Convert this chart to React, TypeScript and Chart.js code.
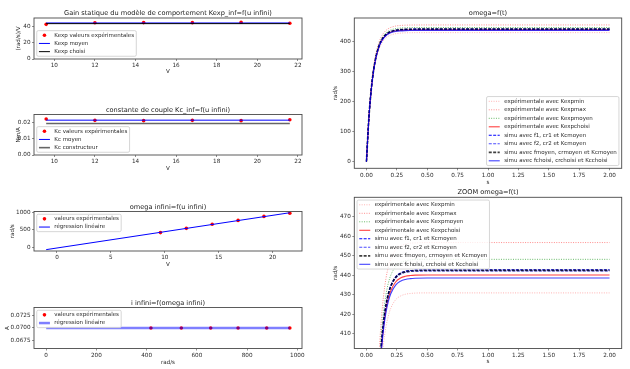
import React, { useEffect, useRef } from "react";
import { Chart, registerables } from "chart.js";

Chart.register(...registerables);

const FONT = '"DejaVu Sans", sans-serif';
const TXT = "#2a2a2a";

// ---------------- data ----------------
const U_INF = [9.6, 12, 14.4, 16.8, 19.2, 21.6];
const U_ENDS = [9.6, 21.6];
const KEXP_VALUES = [43.1, 45.0, 45.3, 45.2, 45.7, 44.5];
const KEXP_MOYEN = [44.8, 44.8];
const KEXP_CHOISI = [44.0, 44.0];
const KC_VALUES = [0.0222, 0.0214, 0.0212, 0.0214, 0.0212, 0.0218];
const KC_MOYEN = [0.0215, 0.0215];
const KC_CONSTRUCTEUR = [0.0194, 0.0194];
const OMEGA_INF = [417, 538, 655, 764, 878, 970];
const REG_U = [-1, 21.6];
const REG_OMEGA = [-66, 982];
const I_INF = [0.07, 0.07, 0.07, 0.07, 0.07, 0.07];
const REG_I_OMEGA = [0, 970];
const REG_I = [0.07, 0.07];

const T = [0, 0.02, 0.04, 0.06, 0.08, 0.1, 0.12, 0.14, 0.16, 0.18, 0.2, 0.24, 0.28, 0.32, 0.36, 0.4, 0.5, 0.6, 0.8, 1.0, 1.5, 2.0];
const W_KEXPMIN = [0, 142.1, 237.4, 301.2, 344.0, 372.7, 391.9, 404.8, 413.4, 419.2, 423.1, 427.5, 429.4, 430.3, 430.7, 430.9, 431.0, 431.0, 431.0, 431.0, 431.0, 431.0];
const W_KEXPMAX = [0, 150.6, 251.6, 319.2, 364.6, 395.0, 415.4, 429.0, 438.2, 444.3, 448.4, 453.1, 455.1, 456.0, 456.5, 456.6, 456.8, 456.8, 456.8, 456.8, 456.8, 456.8];
const W_KEXPMOYEN = [0, 147.8, 246.8, 313.2, 357.7, 387.6, 407.6, 421.0, 429.9, 436.0, 440.0, 444.5, 446.5, 447.4, 447.9, 448.1, 448.2, 448.2, 448.2, 448.2, 448.2, 448.2];
const W_KEXPCHOISI = [0, 145.1, 242.4, 307.6, 351.3, 380.6, 400.3, 413.4, 422.2, 428.2, 432.1, 436.6, 438.6, 439.5, 439.9, 440.1, 440.2, 440.2, 440.2, 440.2, 440.2, 440.2];
const W_F1 = [0, 146.0, 243.9, 309.4, 353.4, 382.9, 402.6, 415.9, 424.7, 430.7, 434.7, 439.2, 441.2, 442.1, 442.5, 442.7, 442.8, 442.8, 442.8, 442.8, 442.8, 442.8];
const W_F2 = [0, 145.8, 243.5, 309.0, 352.9, 382.4, 402.1, 415.3, 424.2, 430.1, 434.1, 438.6, 440.6, 441.5, 441.9, 442.1, 442.2, 442.2, 442.2, 442.2, 442.2, 442.2];
const W_FMOYEN = [0, 145.9, 243.7, 309.2, 353.2, 382.6, 402.4, 415.6, 424.5, 430.4, 434.4, 438.9, 440.9, 441.8, 442.2, 442.4, 442.5, 442.5, 442.5, 442.5, 442.5, 442.5];
const W_FCHOISI = [0, 144.6, 241.5, 306.5, 350.1, 379.3, 398.8, 411.9, 420.7, 426.6, 430.6, 435.0, 437.0, 437.9, 438.3, 438.5, 438.6, 438.6, 438.6, 438.6, 438.6, 438.6];

// tick labels
const TICKS_U = [10, 12, 14, 16, 18, 20, 22];
const TICKS_KEXP = [0, 20, 40];
const TICKS_KC = [0, 0.01, 0.02];
const TICKS_U3 = [0, 5, 10, 15, 20];
const TICKS_OMEGA = [0, 500, 1000];
const TICKS_OMEGA_X = [0, 200, 400, 600, 800, 1000];
const TICKS_I = [0.0675, 0.07, 0.0725];
const TICKS_T = [0, 0.25, 0.5, 0.75, 1, 1.25, 1.5, 1.75, 2];
const TICKS_W = [0, 100, 200, 300, 400];
const TICKS_WZ = [410, 420, 430, 440, 450, 460, 470];

// ---------------- helpers ----------------
const pts = (xs: number[], ys: number[]) => xs.map((x, i) => ({ x, y: ys[i] }));

const pointsDs = (label: string, xs: number[], ys: number[]) => ({
  label,
  data: pts(xs, ys),
  showLine: false,
  pointRadius: 1.8,
  pointBorderWidth: 0,
  pointBackgroundColor: "#ff0000",
  backgroundColor: "#ff0000",
  borderColor: "#ff0000",
});

const lineDs = (label: string, xs: number[], ys: number[], color: string, width: number, dash: number[] = []) => ({
  label,
  data: pts(xs, ys),
  showLine: true,
  pointRadius: 0,
  borderColor: color,
  backgroundColor: color,
  borderWidth: width,
  borderDash: dash,
  fill: false,
  cubicInterpolationMode: "monotone",
});

const DOT = [1, 1.4];
const DASH = [3, 1.4];

const stepSeries = () => [
  lineDs("expérimentale avec Kexpmin", T, W_KEXPMIN, "rgba(255,0,0,0.3)", 1, DOT),
  lineDs("expérimentale avec Kexpmax", T, W_KEXPMAX, "rgba(255,0,0,0.45)", 1, DOT),
  lineDs("expérimentale avec Kexpmoyen", T, W_KEXPMOYEN, "rgba(0,140,0,0.6)", 1, DOT),
  lineDs("expérimentale avec Kexpchoisi", T, W_KEXPCHOISI, "rgba(255,0,0,0.75)", 1.1),
  lineDs("simu avec f1, cr1 et Kcmoyen", T, W_F1, "#0000ff", 1.1, DASH),
  lineDs("simu avec f2, cr2 et Kcmoyen", T, W_F2, "rgba(0,0,255,0.7)", 1.1, DASH),
  lineDs("simu avec fmoyen, crmoyen et Kcmoyen", T, W_FMOYEN, "rgba(0,0,0,0.75)", 1.7, DASH),
  lineDs("simu avec fchoisi, crchoisi et Kcchoisi", T, W_FCHOISI, "rgba(0,0,255,0.75)", 1.1),
];

// ---------------- matplotlib-like frame + legend ----------------
const mplPlugin = {
  id: "mpl",
  afterDatasetsDraw(chart: any, _args: any, opts: any) {
    const { ctx, chartArea: ca } = chart;
    ctx.save();
    ctx.strokeStyle = "#4a4a4a";
    ctx.lineWidth = 0.9;
    ctx.setLineDash([]);
    ctx.strokeRect(ca.left, ca.top, ca.right - ca.left, ca.bottom - ca.top);
    ctx.restore();
    if (!opts || !opts.loc) return;
    const fs = opts.fontSize;
    const rowH = opts.rowH;
    const bp = 0.4 * fs, hl = 2 * fs, htp = 0.8 * fs, bap = 0.5 * fs;
    const ds = chart.data.datasets;
    ctx.save();
    ctx.font = `${fs}px ${FONT}`;
    let tw = 0;
    ds.forEach((d: any) => { tw = Math.max(tw, ctx.measureText(d.label).width); });
    const w = 2 * bp + hl + htp + tw;
    const h = ds.length * rowH + 1;
    let x0 = ca.left + bap, y0 = ca.top + bap;
    if (opts.loc === "lower left") { y0 = ca.bottom - bap - h; }
    if (opts.loc === "lower right") { x0 = ca.right - bap - w; y0 = ca.bottom - bap - h; }
    const r = 1.5;
    ctx.beginPath();
    ctx.moveTo(x0 + r, y0);
    ctx.lineTo(x0 + w - r, y0);
    ctx.arcTo(x0 + w, y0, x0 + w, y0 + r, r);
    ctx.lineTo(x0 + w, y0 + h - r);
    ctx.arcTo(x0 + w, y0 + h, x0 + w - r, y0 + h, r);
    ctx.lineTo(x0 + r, y0 + h);
    ctx.arcTo(x0, y0 + h, x0, y0 + h - r, r);
    ctx.lineTo(x0, y0 + r);
    ctx.arcTo(x0, y0, x0 + r, y0, r);
    ctx.closePath();
    ctx.fillStyle = "rgba(255,255,255,0.8)";
    ctx.fill();
    ctx.strokeStyle = "#cccccc";
    ctx.lineWidth = 0.8;
    ctx.stroke();
    ds.forEach((d: any, i: number) => {
      const cy = y0 + 0.5 + rowH * (i + 0.5);
      const hx = x0 + bp;
      if (d.showLine === false) {
        ctx.beginPath();
        ctx.fillStyle = d.pointBackgroundColor;
        ctx.arc(hx + hl / 2, cy, d.pointRadius, 0, Math.PI * 2);
        ctx.fill();
      } else {
        ctx.beginPath();
        ctx.setLineDash(d.borderDash || []);
        ctx.strokeStyle = d.borderColor;
        ctx.lineWidth = d.borderWidth;
        ctx.moveTo(hx, cy);
        ctx.lineTo(hx + hl, cy);
        ctx.stroke();
        ctx.setLineDash([]);
      }
      ctx.fillStyle = TXT;
      ctx.textBaseline = "middle";
      ctx.textAlign = "left";
      ctx.fillText(d.label, hx + hl + htp, cy);
    });
    ctx.restore();
  },
};

// ---------------- panels ----------------
type Spec = {
  canvas: { x: number; y: number; w: number; h: number };
  box: { l: number; t: number; r: number; b: number };
  ylabX: number; xlabY: number;
  title: string; xLabel: string; yLabel: string;
  xMin: number; xMax: number; yMin: number; yMax: number;
  xTicks: number[]; yTicks: number[]; xDec: number; yDec: number;
  datasets: any[]; legendLoc: string; rowH: number;
};

const SPECS: Spec[] = [
  {
    canvas: { x: 0, y: 0, w: 318, h: 90 }, box: { l: 34, t: 18, r: 302, b: 59 }, ylabX: 19, xlabY: 71.7,
    title: "Gain statique du modèle de comportement Kexp_inf=f(u infini)", xLabel: "V", yLabel: "(rad/s)/V",
    xMin: 9.0, xMax: 22.2, yMin: 0, yMax: 51, xTicks: TICKS_U, yTicks: TICKS_KEXP, xDec: 0, yDec: 0,
    datasets: [
      pointsDs("Kexp valeurs expérimentales", U_INF, KEXP_VALUES),
      lineDs("Kexp moyen", U_ENDS, KEXP_MOYEN, "#0000ff", 1),
      lineDs("Kexp choisi", U_ENDS, KEXP_CHOISI, "#000000", 1),
    ],
    legendLoc: "lower left", rowH: 8.2,
  },
  {
    canvas: { x: 0, y: 90, w: 318, h: 95 }, box: { l: 34, t: 114.5, r: 302, b: 155 }, ylabX: 19, xlabY: 169,
    title: "constante de couple Kc_inf=f(u infini)", xLabel: "V", yLabel: "Nm/A",
    xMin: 9.0, xMax: 22.2, yMin: 0, yMax: 0.025, xTicks: TICKS_U, yTicks: TICKS_KC, xDec: 0, yDec: 2,
    datasets: [
      pointsDs("Kc valeurs expérimentales", U_INF, KC_VALUES),
      lineDs("Kc moyen", U_ENDS, KC_MOYEN, "#0000ff", 1),
      lineDs("Kc constructeur", U_ENDS, KC_CONSTRUCTEUR, "rgba(0,0,0,0.6)", 1.6),
    ],
    legendLoc: "lower left", rowH: 8.2,
  },
  {
    canvas: { x: 0, y: 185, w: 318, h: 95 }, box: { l: 34, t: 211.5, r: 302, b: 251 }, ylabX: 12.3, xlabY: 265,
    title: "omega infini=f(u infini)", xLabel: "V", yLabel: "rad/s",
    xMin: -2.13, xMax: 22.73, yMin: -105, yMax: 1017, xTicks: TICKS_U3, yTicks: TICKS_OMEGA, xDec: 0, yDec: 0,
    datasets: [
      pointsDs("valeurs expérimentales", U_INF, OMEGA_INF),
      lineDs("régression linéaire", REG_U, REG_OMEGA, "#0000ff", 1),
    ],
    legendLoc: "upper left", rowH: 8.2,
  },
  {
    canvas: { x: 0, y: 280, w: 318, h: 89 }, box: { l: 34, t: 307.5, r: 302, b: 348.5 }, ylabX: 7.3, xlabY: 362.7,
    title: "i infini=f(omega infini)", xLabel: "rad/s", yLabel: "A",
    xMin: -48.5, xMax: 1018.5, yMin: 0.066, yMax: 0.074, xTicks: TICKS_OMEGA_X, yTicks: TICKS_I, xDec: 0, yDec: 4,
    datasets: [
      pointsDs("valeurs expérimentales", OMEGA_INF, I_INF),
      lineDs("régression linéaire", REG_I_OMEGA, REG_I, "rgba(0,0,255,0.5)", 2.5),
    ],
    legendLoc: "upper left", rowH: 8.2,
  },
  {
    canvas: { x: 318, y: 0, w: 312, h: 187 }, box: { l: 354.3, t: 18, r: 621.7, b: 168.3 }, ylabX: 336, xlabY: 182.5,
    title: "omega=f(t)", xLabel: "s", yLabel: "rad/s",
    xMin: -0.1, xMax: 2.1, yMin: -22.85, yMax: 480, xTicks: TICKS_T, yTicks: TICKS_W, xDec: 2, yDec: 0,
    datasets: stepSeries(),
    legendLoc: "lower right", rowH: 8.5,
  },
  {
    canvas: { x: 318, y: 187, w: 312, h: 182 }, box: { l: 354.3, t: 197.3, r: 621.7, b: 348.5 }, ylabX: 336, xlabY: 361.7,
    title: "ZOOM omega=f(t)", xLabel: "s", yLabel: "rad/s",
    xMin: -0.1, xMax: 2.1, yMin: 402.5, yMax: 480, xTicks: TICKS_T, yTicks: TICKS_WZ, xDec: 2, yDec: 0,
    datasets: stepSeries(),
    legendLoc: "upper left", rowH: 8.5,
  },
];

const TITLE_LH = 7;
const TITLE_PB = 1.2;

function buildConfig(s: Spec): any {
  const { canvas: c, box: b } = s;
  const yAxisW = b.l - c.x;
  const xAxisH = c.y + c.h - b.b;
  const padRight = c.x + c.w - b.r;
  const padTop = b.t - c.y - TITLE_LH - TITLE_PB;
  const n = s.datasets.length;
  const datasets = s.datasets.map((d, i) => ({ ...d, order: n - 1 - i }));
  const tickFont = { family: FONT, size: 5.7 };
  const grid = { display: true, drawOnChartArea: false, drawTicks: true, tickLength: 2, color: "#444", lineWidth: 0.6 };
  return {
    type: "scatter",
    data: { datasets },
    options: {
      animation: false,
      responsive: false,
      events: [],
      layout: { padding: { left: 0, bottom: 0, right: padRight, top: padTop } },
      plugins: {
        legend: { display: false },
        tooltip: { enabled: false },
        title: {
          display: true, text: s.title, color: "#222", fullSize: false,
          font: { family: FONT, size: 6.6, lineHeight: `${TITLE_LH}px`, weight: "normal" },
          padding: { top: 0, bottom: TITLE_PB },
        },
        mpl: { loc: s.legendLoc, fontSize: 5.5, rowH: s.rowH },
      },
      scales: {
        x: {
          type: "linear", min: s.xMin, max: s.xMax,
          afterBuildTicks: (sc: any) => { sc.ticks = s.xTicks.map((v) => ({ value: v })); },
          afterFit: (sc: any) => { sc.height = xAxisH; },
          ticks: {
            autoSkip: false, maxRotation: 0, minRotation: 0, padding: 1.5, color: TXT, font: tickFont,
            callback: (v: any) => Number(v).toFixed(s.xDec),
          },
          grid, border: { display: false },
          title: {
            display: true, text: s.xLabel, color: TXT,
            font: { family: FONT, size: 5.6, lineHeight: "6px" },
            padding: { top: 0, bottom: c.y + c.h - s.xlabY - 3 },
          },
        },
        y: {
          type: "linear", min: s.yMin, max: s.yMax,
          afterBuildTicks: (sc: any) => { sc.ticks = s.yTicks.map((v) => ({ value: v })); },
          afterFit: (sc: any) => { sc.width = yAxisW; },
          ticks: {
            autoSkip: false, padding: 1.5, color: TXT, font: tickFont,
            callback: (v: any) => Number(v).toFixed(s.yDec),
          },
          grid, border: { display: false },
          title: {
            display: true, text: s.yLabel, color: TXT,
            font: { family: FONT, size: 5.6, lineHeight: "6px" },
            padding: { top: s.ylabX - c.x - 3, bottom: 0 },
          },
        },
      },
    },
    plugins: [mplPlugin],
  };
}

function Panel({ spec }: { spec: Spec }) {
  const ref = useRef<HTMLCanvasElement>(null);
  useEffect(() => {
    const chart = new Chart(ref.current as HTMLCanvasElement, buildConfig(spec));
    return () => chart.destroy();
  }, [spec]);
  const { x, y, w, h } = spec.canvas;
  return (
    <canvas
      ref={ref}
      width={w}
      height={h}
      style={{ position: "absolute", left: x, top: y, width: w, height: h, display: "block" }}
    />
  );
}

export default function App() {
  return (
    <div style={{ position: "absolute", left: 0, top: 0, width: 630, height: 369, background: "#fff", overflow: "hidden" }}>
      {SPECS.map((s, i) => (
        <Panel key={i} spec={s} />
      ))}
    </div>
  );
}
